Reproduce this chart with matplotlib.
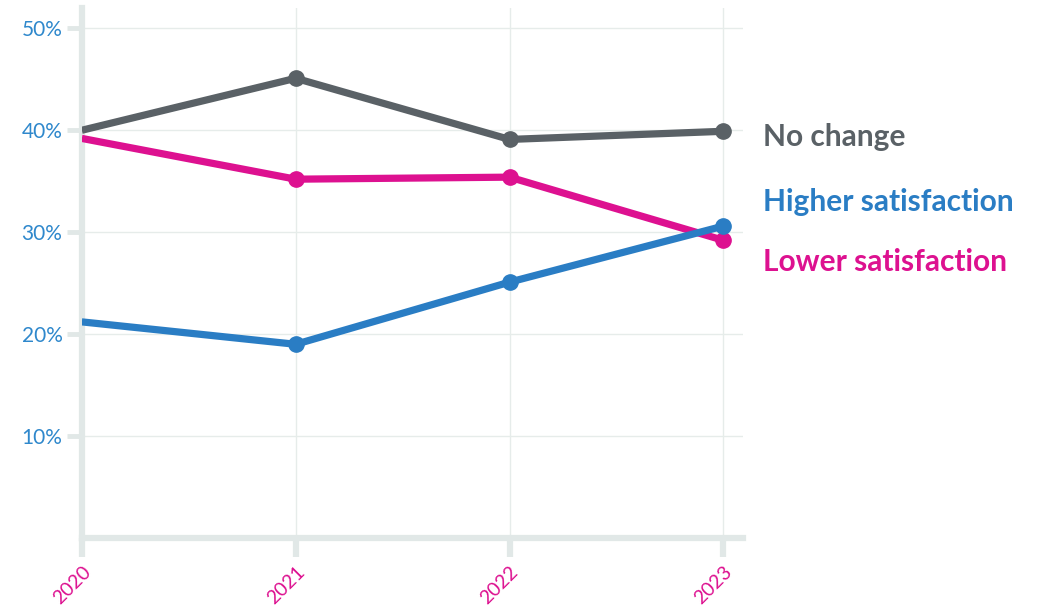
import matplotlib.pyplot as plt
from matplotlib.ticker import FuncFormatter

# data
years = [2020, 2021, 2022, 2023]
no_change = [40.0, 45.1, 39.1, 39.9]
higher = [21.2, 19.0, 25.1, 30.6]
lower = [39.2, 35.2, 35.4, 29.2]

series_labels = ['No change', 'Higher satisfaction', 'Lower satisfaction']
label_y = [39.3, 33.0, 27.1]

grey = '#5a6166'
blue = '#2a7dc4'
pink = '#dd1190'
axis_col = '#e1e8e7'

plt.rcParams['font.family'] = ['Lato', 'DejaVu Sans']

fig = plt.figure(figsize=(10.49, 6.12), dpi=100)
ax = fig.add_axes([0.078, 0.121, 0.630, 0.866])

for vals, col in [(no_change, grey), (lower, pink), (higher, blue)]:
    ax.plot(years, vals, color=col, linewidth=5.2, solid_capstyle='butt', zorder=3)
    ax.plot(years[1:], vals[1:], 'o', color=col, markersize=11, zorder=4)

ax.set_xlim(2020, 2023.09)
ax.set_ylim(0, 52)
ax.set_xticks(years)
ax.set_yticks([10, 20, 30, 40, 50])
ax.yaxis.set_major_formatter(FuncFormatter(lambda v, p: f'{v:.0f}%'))

ax.grid(True, color='#e6ecea', linewidth=1)
ax.set_axisbelow(True)

for s in ['top', 'right']:
    ax.spines[s].set_visible(False)
for s in ['left', 'bottom']:
    ax.spines[s].set_color(axis_col)
    ax.spines[s].set_linewidth(4.5)

ax.tick_params(axis='y', colors=axis_col, labelcolor='#2f88cc', length=11, width=3.5,
               labelsize=15, pad=3)
ax.tick_params(axis='x', colors=axis_col, labelcolor=pink, length=14, width=4.5,
               labelsize=14, pad=4)
for lbl in ax.get_xticklabels():
    lbl.set_rotation(45)
    lbl.set_ha('right')
    lbl.set_va('top')
    lbl.set_rotation_mode('anchor')

for txt, y, col in zip(series_labels, label_y, [grey, blue, pink]):
    ax.text(2023.185, y, txt, color=col, fontsize=21.5, fontweight='bold',
            va='center', ha='left', clip_on=False)

fig.savefig('out.png', dpi=100)
